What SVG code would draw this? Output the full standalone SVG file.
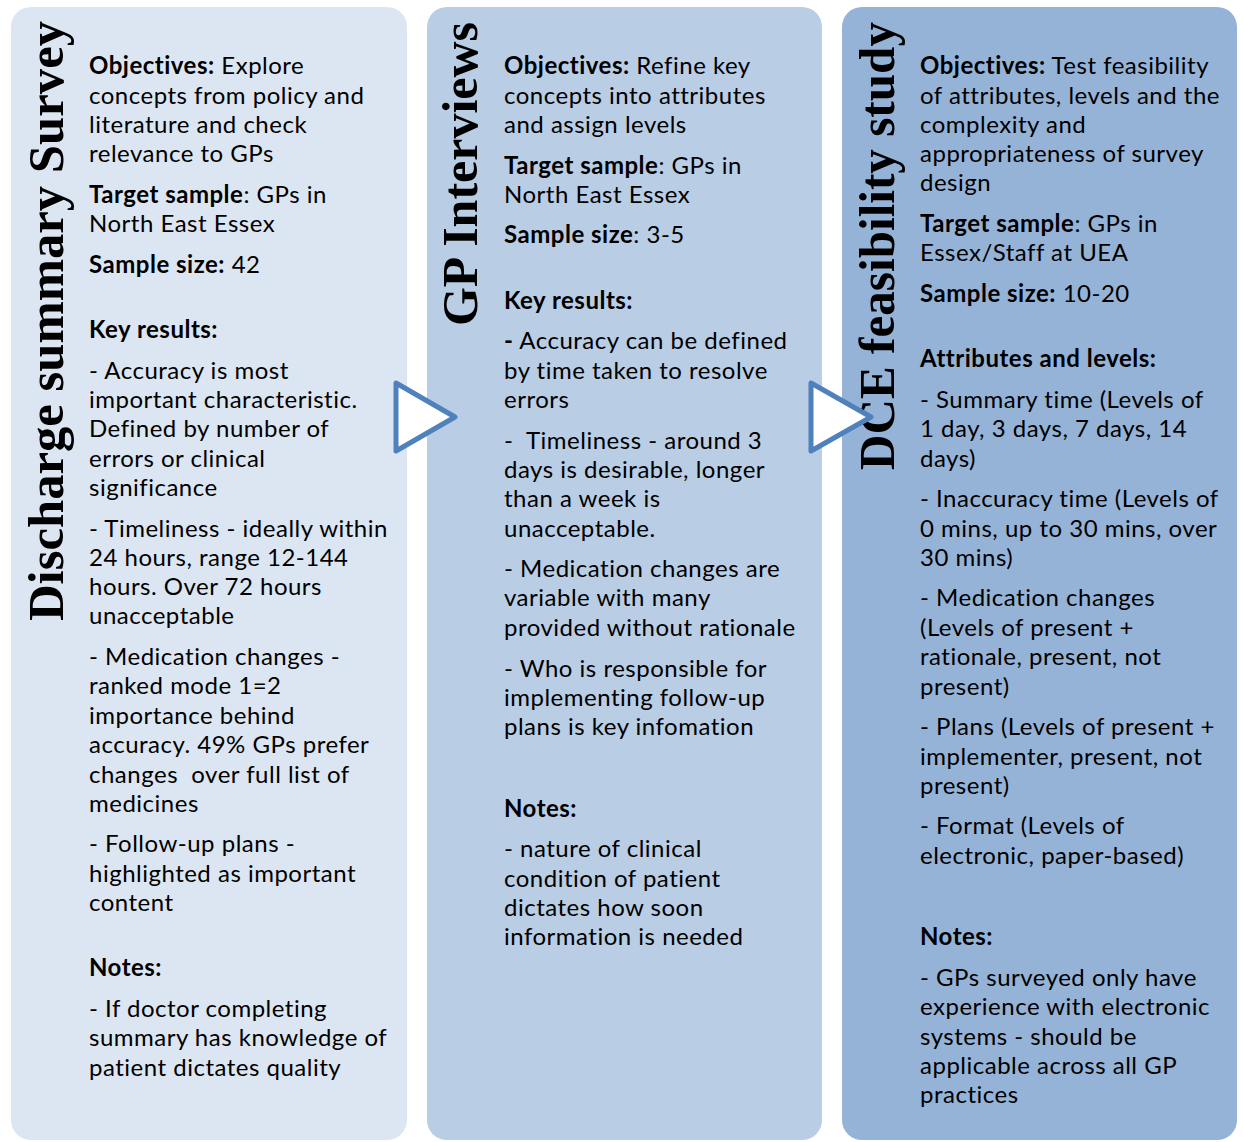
<svg xmlns="http://www.w3.org/2000/svg" width="1243" height="1142" viewBox="0 0 1243 1142">
  <style>
    .panel { stroke: none; }
    .p1 { fill: #dce6f2; }
    .p2 { fill: #b9cde5; }
    .p3 { fill: #95b3d7; }
    .title { font-family: "Liberation Serif", "DejaVu Serif", serif; font-weight: bold; font-size: 50px; fill: #000; }
    .body { font-family: Lato, "Liberation Sans", sans-serif; font-size: 24px; letter-spacing: 0.5px; fill: #000; }
    .b { font-weight: bold; }
    .arrow { fill: #ffffff; stroke: #4f81bd; stroke-width: 5; stroke-linejoin: round; }
  </style>

  <!-- Stage 1: discharge summary survey -->
  <g id="stage-survey">
    <rect class="panel p1" x="11" y="7" width="396" height="1133" rx="20" ry="20"/>
    <text class="title" transform="translate(63,621) rotate(-90)" textLength="600" lengthAdjust="spacingAndGlyphs">Discharge summary Survey</text>
    <text class="body">
      <tspan x="89" y="74"><tspan class="b">Objectives:</tspan> Explore</tspan>
      <tspan x="89" y="104">concepts from policy and</tspan>
      <tspan x="89" y="133">literature and check</tspan>
      <tspan x="89" y="162">relevance to GPs</tspan>
      <tspan x="89" y="203"><tspan class="b">Target sample</tspan>: GPs in</tspan>
      <tspan x="89" y="232">North East Essex</tspan>
      <tspan x="89" y="273"><tspan class="b">Sample size:</tspan> 42</tspan>
      <tspan x="89" y="338" class="b">Key results:</tspan>
      <tspan x="89" y="379">- Accuracy is most</tspan>
      <tspan x="89" y="408">important characteristic.</tspan>
      <tspan x="89" y="437">Defined by number of</tspan>
      <tspan x="89" y="467">errors or clinical</tspan>
      <tspan x="89" y="496">significance</tspan>
      <tspan x="89" y="537">- Timeliness - ideally within</tspan>
      <tspan x="89" y="566">24 hours, range 12-144</tspan>
      <tspan x="89" y="595">hours. Over 72 hours</tspan>
      <tspan x="89" y="624">unacceptable</tspan>
      <tspan x="89" y="665">- Medication changes -</tspan>
      <tspan x="89" y="694">ranked mode 1=2</tspan>
      <tspan x="89" y="724">importance behind</tspan>
      <tspan x="89" y="753">accuracy. 49% GPs prefer</tspan>
      <tspan x="89" y="783" xml:space="preserve">changes  over full list of</tspan>
      <tspan x="89" y="812">medicines</tspan>
      <tspan x="89" y="852">- Follow-up plans -</tspan>
      <tspan x="89" y="882">highlighted as important</tspan>
      <tspan x="89" y="911">content</tspan>
      <tspan x="89" y="976" class="b">Notes:</tspan>
      <tspan x="89" y="1017">- If doctor completing</tspan>
      <tspan x="89" y="1046">summary has knowledge of</tspan>
      <tspan x="89" y="1076">patient dictates quality</tspan>
    </text>
  </g>

  <!-- Stage 2: GP interviews -->
  <g id="stage-interviews">
    <rect class="panel p2" x="427" y="7" width="395" height="1133" rx="20" ry="20"/>
    <text class="title" transform="translate(477,326) rotate(-90)" textLength="304" lengthAdjust="spacingAndGlyphs">GP Interviews</text>
    <text class="body">
      <tspan x="504" y="74"><tspan class="b">Objectives:</tspan> Refine key</tspan>
      <tspan x="504" y="104">concepts into attributes</tspan>
      <tspan x="504" y="133">and assign levels</tspan>
      <tspan x="504" y="174"><tspan class="b">Target sample</tspan>: GPs in</tspan>
      <tspan x="504" y="203">North East Essex</tspan>
      <tspan x="504" y="243"><tspan class="b">Sample size</tspan>: 3-5</tspan>
      <tspan x="504" y="309" class="b">Key results:</tspan>
      <tspan x="504" y="349"><tspan class="b">-</tspan> Accuracy can be defined</tspan>
      <tspan x="504" y="379">by time taken to resolve</tspan>
      <tspan x="504" y="408">errors</tspan>
      <tspan x="504" y="449" xml:space="preserve">-  Timeliness - around 3</tspan>
      <tspan x="504" y="478">days is desirable, longer</tspan>
      <tspan x="504" y="507">than a week is</tspan>
      <tspan x="504" y="537">unacceptable.</tspan>
      <tspan x="504" y="577">- Medication changes are</tspan>
      <tspan x="504" y="606">variable with many</tspan>
      <tspan x="504" y="636">provided without rationale</tspan>
      <tspan x="504" y="677">- Who is responsible for</tspan>
      <tspan x="504" y="706">implementing follow-up</tspan>
      <tspan x="504" y="735">plans is key infomation</tspan>
      <tspan x="504" y="817" class="b">Notes:</tspan>
      <tspan x="504" y="857">- nature of clinical</tspan>
      <tspan x="504" y="887">condition of patient</tspan>
      <tspan x="504" y="916">dictates how soon</tspan>
      <tspan x="504" y="945">information is needed</tspan>
    </text>
  </g>

  <!-- Stage 3: DCE feasibility study -->
  <g id="stage-feasibility">
    <rect class="panel p3" x="842" y="7" width="395" height="1133" rx="20" ry="20"/>
    <text class="title" transform="translate(894,470) rotate(-90)" textLength="448" lengthAdjust="spacingAndGlyphs">DCE feasibility study</text>
    <text class="body">
      <tspan x="920" y="74"><tspan class="b">Objectives:</tspan> Test feasibility</tspan>
      <tspan x="920" y="104">of attributes, levels and the</tspan>
      <tspan x="920" y="133">complexity and</tspan>
      <tspan x="920" y="162">appropriateness of survey</tspan>
      <tspan x="920" y="191">design</tspan>
      <tspan x="920" y="232"><tspan class="b">Target sample</tspan>: GPs in</tspan>
      <tspan x="920" y="261">Essex/Staff at UEA</tspan>
      <tspan x="920" y="302"><tspan class="b">Sample size:</tspan> 10-20</tspan>
      <tspan x="920" y="367" class="b">Attributes and levels:</tspan>
      <tspan x="920" y="408">- Summary time (Levels of</tspan>
      <tspan x="920" y="437">1 day, 3 days, 7 days, 14</tspan>
      <tspan x="920" y="467">days)</tspan>
      <tspan x="920" y="507">- Inaccuracy time (Levels of</tspan>
      <tspan x="920" y="537">0 mins, up to 30 mins, over</tspan>
      <tspan x="920" y="566">30 mins)</tspan>
      <tspan x="920" y="606">- Medication changes</tspan>
      <tspan x="920" y="636">(Levels of present +</tspan>
      <tspan x="920" y="665">rationale, present, not</tspan>
      <tspan x="920" y="695">present)</tspan>
      <tspan x="920" y="735">- Plans (Levels of present +</tspan>
      <tspan x="920" y="765">implementer, present, not</tspan>
      <tspan x="920" y="794">present)</tspan>
      <tspan x="920" y="834">- Format (Levels of</tspan>
      <tspan x="920" y="864">electronic, paper-based)</tspan>
      <tspan x="920" y="945" class="b">Notes:</tspan>
      <tspan x="920" y="986">- GPs surveyed only have</tspan>
      <tspan x="920" y="1015">experience with electronic</tspan>
      <tspan x="920" y="1045">systems - should be</tspan>
      <tspan x="920" y="1074">applicable across all GP</tspan>
      <tspan x="920" y="1103">practices</tspan>
    </text>
  </g>

  <!-- Flow arrows between stages -->
  <g id="connectors">
    <polygon class="arrow" points="396,383 396,451 455,417"/>
    <polygon class="arrow" points="811,383 811,451 871,417"/>
  </g>
</svg>
